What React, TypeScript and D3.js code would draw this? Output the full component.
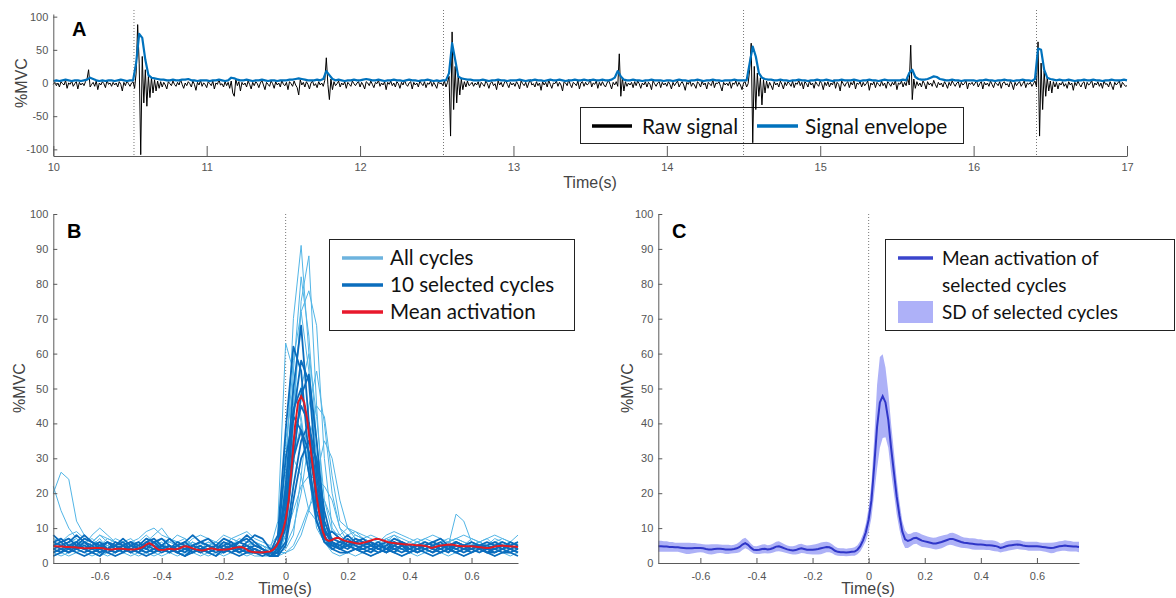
import React, { useEffect, useRef } from "react";
import * as d3 from "d3";

// ---- Panel A: raw EMG and envelope, 10 s to 17 s ----
const rawStart = 10;
const rawStep = 0.01;
const rawSignal = [
  -2, 1, -4, 0, -6, 2, -1, -3, 4, -8, 0, -2, 3, -5, -1, 2, -9, 1, -3, 0,
  -4, 2, 6, 20, -6, -2, 1, -5, 3, -10, 0, -3, 2, -1, -7, 4, -2, 0, -5, 1,
  -3, 0, -6, 2, -2, -12, 1, -4, 3, -1, -5, 0, 2, -8, 15, 88, 30, -108, 40, -30,
  20, -35, 10, -22, 8, -15, 5, -12, 3, -8, 2, -6, 1, -3, -9, 2, -1, -4, 3, -2,
  -5, 1, -3, 5, -2, -8, 0, -4, 2, -1, -6, 3, -2, -11, 1, -3, 4, -5, 0, -2,
  -7, 2, -1, -4, 3, -9, 0, -2, 5, -3, -1, -6, 2, -4, 1, -8, 3, -15, -20, 6,
  -4, 2, -12, 1, -3, 0, -6, 3, -2, -9, 1, -4, 2, -1, -7, 0, 4, -3, -10, 1,
  -2, -5, 3, -1, -8, 2, -3, 0, -6, 4, -2, -4, 1, -10, 2, -1, -5, 3, -3, -7,
  -18, 5, -3, 1, -6, 2, -2, -9, 0, 3, -4, -1, -7, 2, -3, 0, -5, 4, 38, -2,
  -25, 6, -10, 2, -4, -1, 3, -6, 0, -3, 2, -8, 1, -2, -5, 3, -1, -4, 0, 2,
  -6, 1, -3, -9, 2, 0, -4, 3, -2, -7, 1, -1, 4, -5, 0, -3, 2, -10, 1, -2,
  3, -4, 0, -6, 2, -1, -8, 1, -3, 4, -2, -5, 0, 2, -9, 1, -3, 0, -6, 3,
  -1, -4, 2, -7, 0, -2, 3, -5, 1, -3, -8, 2, -1, 0, -4, 3, -6, 1, 10, -80,
  77, -40, 25, -30, 12, -18, 6, -10, 2, -6, 3, -4, -2, 1, -5, 0, -3, 2, -7, 1,
  -2, -5, 3, -1, -8, 0, 2, -4, -1, -10, 3, -3, 1, -6, 0, 4, -2, -7, 1, -3,
  0, -5, 2, -2, -9, 3, -1, -4, 1, -7, 0, 5, -3, -1, -6, 2, -4, 0, -11, 2,
  -3, 1, -6, 4, -2, -8, 0, -1, 3, -5, 1, -3, -12, 2, 0, -4, 5, -2, -7, 1,
  -1, -4, 3, -9, 0, 2, -5, 1, -3, -1, 6, -6, 0, -2, 3, -8, 1, -4, 2, -3,
  -6, 0, 4, -2, -9, 1, -3, 2, -5, 44, -20, 8, -12, 2, -5, 0, -3, 1, -7, 2,
  -4, 3, -1, -8, 0, -3, 2, -6, 1, -2, -10, 3, -1, -5, 0, 2, -7, 1, -3, 0,
  -5, 2, -2, -9, 1, -4, 0, 3, -6, -1, 2, -3, -11, 1, -2, 4, -5, 0, -3, -8,
  2, -1, -6, 3, -3, 0, -9, 1, -2, -4, 5, -7, 0, -1, 2, -5, -12, 1, -3, 0,
  -4, 2, -8, 0, -2, 3, -5, 1, -3, -10, 0, 2, -6, -1, 20, 60, -90, 25, -40, 15,
  -20, 8, -33, 5, -15, 3, -8, 1, -4, -10, 2, -3, 0, -6, 3, -2, -9, 1, -4, 2,
  -1, -5, 3, -7, 0, -2, 4, -4, 1, -9, 2, -1, -6, 3, -3, 0, -8, 2, -2, -5,
  3, -1, -10, 1, -4, 2, -6, 0, -3, 5, -8, 1, -2, -12, 3, -1, -5, 0, 2, -7,
  1, -3, 4, -9, 0, -2, 2, -6, 1, -4, -1, 3, -11, 0, -3, 2, -7, 1, -2, -5,
  3, -4, 0, -8, 2, -1, -5, 1, -3, 4, -10, 0, -2, 3, -6, 1, -4, 8, -3, 57,
  -25, 6, -8, 2, -4, 0, -6, 3, -1, -9, 2, -3, 0, -5, 4, -2, -7, 1, -3, 0,
  -6, 2, -2, -8, 1, -4, 3, -1, -5, 0, 2, -7, 1, -3, -1, 4, -9, 0, -2, 1,
  -4, 0, 3, -6, -1, 2, -9, 1, -3, 0, -5, 3, -2, -7, 1, -1, -4, 2, -8, 0,
  2, -3, -1, -6, 3, -2, -10, 1, -4, 0, 2, -5, -1, 3, -7, 0, -2, 1, -5, -1,
  3, -6, 62, -80, 30, -40, 18, -20, 8, -12, 3, -15, 2, -6, 1, -9, 0, -3, 2, -5,
  -1, -8, 2, -3, 0, -11, 1, -4, 3, -2, -6, 0, 2, -9, 1, -3, -1, 4, -7, 0,
  -3, 2, -5, 0, -8, 3, -2, -1, -6, 2, -4, -10, 1, -3, 0, 3, -7, 1, -2, -5,
  -4,
];
const envStep = 0.02;
const envelope = [
  3, 4, 3, 4, 5, 4, 3, 4, 4, 3, 4, 5, 8, 6, 4, 3, 4, 3, 4, 4, 3, 4, 5, 4, 3,
  4, 4, 30, 74, 68, 35, 12, 8, 7, 6, 5, 5, 4, 4, 5, 4, 4, 5, 5, 6, 4, 4, 3, 4, 4,
  4, 3, 4, 4, 5, 4, 3, 4, 8, 7, 5, 4, 4, 5, 4, 3, 4, 4, 5, 4, 3, 4, 4, 3, 4,
  4, 4, 5, 5, 6, 7, 6, 5, 4, 4, 4, 5, 4, 6, 18, 12, 6, 4, 5, 4, 3, 4, 4, 5, 4,
  4, 5, 6, 5, 4, 4, 5, 4, 3, 4, 4, 5, 4, 4, 3, 4, 5, 4, 4, 3, 4, 4, 5, 4, 3,
  4, 3, 4, 4, 15, 60, 35, 10, 7, 6, 5, 5, 4, 4, 4, 5, 4, 3, 4, 4, 5, 4, 4, 3, 4,
  4, 4, 5, 4, 3, 4, 4, 5, 4, 4, 3, 4, 5, 4, 4, 5, 4, 3, 4, 4, 5, 4, 4, 5, 4,
  4, 5, 4, 4, 5, 4, 4, 5, 8, 18, 10, 5, 4, 4, 5, 4, 4, 3, 4, 4, 5, 4, 4, 4, 3,
  4, 4, 3, 4, 5, 4, 4, 3, 4, 4, 5, 4, 3, 4, 4, 5, 4, 4, 3, 4, 4, 4, 5, 4, 4,
  4, 4, 30, 55, 40, 15, 8, 6, 5, 5, 4, 4, 5, 4, 4, 3, 4, 4, 5, 4, 4, 3, 4, 4, 5,
  4, 4, 5, 4, 3, 4, 4, 5, 4, 4, 4, 5, 4, 3, 4, 4, 5, 4, 4, 3, 4, 5, 4, 4, 4,
  4, 4, 5, 4, 15, 20, 9, 6, 5, 5, 6, 8, 10, 9, 6, 5, 4, 4, 5, 4, 4, 3, 4, 4, 4,
  4, 3, 4, 4, 5, 4, 4, 3, 4, 4, 5, 4, 4, 3, 4, 4, 5, 4, 4, 3, 6, 52, 50, 20, 8,
  6, 5, 4, 5, 4, 4, 5, 4, 3, 4, 4, 5, 4, 4, 5, 4, 4, 3, 4, 4, 5, 4, 4, 4, 5,
  4,
];
const onsetsA = [10.526, 12.544, 14.5, 16.41];
const xTicksA = [10, 11, 12, 13, 14, 15, 16, 17];
const yTicksA = [-100, -50, 0, 50, 100];

// ---- Panels B and C: cycles aligned on onset, -0.75 s to 0.75 s ----
const cycleStart = -0.75;
const cycleStep = 0.025;
const allCycles = [
  [5,4,6,3,4,5,7,4,3,5, 4,6,5,3,4,7,5,4,6,4, 3,5,4,6,5,3,4,3,2,3, 25,70,91,60,22,8,5,4,5,6, 4,5,6,5,4,3,5,6,4,5, 4,6,5,4,3,5,4,6,5,4,5],
  [3,4,3,5,6,4,3,4,5,4, 6,5,4,3,4,5,4,6,5,3, 4,5,6,4,3,4,5,4,3,2, 8,40,75,88,45,12,6,5,4,5, 6,4,5,7,5,4,3,4,5,6, 5,4,3,4,6,5,4,3,5,4,3],
  [20,26,24,12,8,6,5,7,6,4, 5,6,8,6,5,4,6,7,5,4, 6,5,4,5,7,6,5,4,3,4, 12,45,72,78,68,30,10,7,6,5, 7,6,5,4,6,5,4,5,6,5, 4,5,6,5,4,6,5,4,5,6,5],
  [22,15,10,7,5,4,6,5,4,6, 7,5,4,5,6,4,3,5,6,4, 5,6,4,3,5,4,6,5,3,5, 30,58,72,55,30,10,6,5,4,5, 6,5,4,6,5,4,5,4,6,5, 4,5,3,4,6,5,4,5,4,6,5],
  [4,5,6,5,4,6,8,6,5,4, 5,4,6,8,10,7,5,4,5,6, 5,4,6,5,4,5,6,5,4,12, 63,55,40,25,12,7,6,5,6,7, 6,5,4,6,5,4,5,6,5,4, 6,5,4,5,6,5,4,5,6,5,4],
  [6,5,4,5,6,7,5,4,6,5, 4,5,7,6,5,4,5,6,4,5, 6,5,4,5,6,5,4,3,4,3, 4,8,25,45,55,40,20,10,8,9, 7,6,5,6,7,6,5,6,5,6, 5,6,7,6,5,6,5,7,6,5,6],
  [3,4,5,4,3,5,6,5,4,3, 4,5,4,6,5,3,4,5,4,3, 5,4,3,4,5,4,3,4,3,8, 35,50,42,25,10,6,5,4,5,4, 3,4,5,4,3,4,5,4,3,4, 5,4,3,4,5,4,3,4,5,4,3],
  [5,6,7,6,5,8,10,8,6,5, 6,5,7,6,5,6,8,7,5,6, 5,6,8,7,6,5,6,5,4,4, 5,10,20,35,45,42,25,12,10,8, 7,8,7,6,8,7,6,7,6,5, 6,7,6,5,7,6,5,6,7,6,5],
  [2,3,2,3,4,3,2,3,4,3, 2,3,4,3,2,3,2,3,4,3, 2,3,2,3,4,3,2,2,2,2, 15,30,40,28,15,6,3,2,3,2, 3,2,3,4,3,2,3,2,3,4, 3,2,3,2,3,4,3,2,3,2,3],
  [4,5,4,6,5,4,5,6,5,4, 5,6,5,4,5,7,6,5,4,5, 4,5,6,5,4,5,4,3,3,3, 3,4,8,15,25,35,30,18,10,7, 6,5,6,7,6,5,6,5,4,5, 6,5,14,12,6,5,4,5,6,5,4],
  [7,6,8,9,7,6,8,7,6,5, 6,7,9,10,8,7,6,5,7,8, 7,6,5,7,8,9,7,6,5,8, 20,30,25,15,12,10,9,8,10,9, 8,7,6,8,9,8,7,6,7,8, 7,6,7,8,7,6,7,8,7,6,8],
  [5,4,5,6,5,4,3,4,5,4, 3,4,5,4,3,4,5,6,5,4, 5,4,3,4,5,4,3,4,3,4, 8,15,22,25,24,22,18,10,6,5, 4,5,6,5,4,5,4,6,5,4, 5,6,5,4,5,6,5,4,5,6,5],
  [4,3,4,5,4,3,4,5,4,3, 4,5,4,3,5,4,3,4,5,4, 3,4,5,4,3,4,5,4,3,3, 18,55,82,65,35,12,6,4,5,4, 5,4,3,4,5,6,4,3,5,4, 3,4,5,4,6,5,4,3,4,5,4],
  [6,5,6,7,5,4,6,5,7,6, 5,6,4,5,7,6,5,4,6,5, 4,6,5,7,6,5,4,5,4,3, 8,28,50,60,42,18,9,7,6,8, 7,6,5,7,8,6,5,6,7,6, 5,6,7,6,5,6,7,5,6,5,6],
  [3,2,3,4,3,2,3,2,3,4, 3,2,3,2,3,4,3,2,3,2, 3,2,3,4,3,2,3,2,3,2, 3,5,10,16,20,18,12,8,6,5, 4,3,4,3,4,5,4,3,4,3, 4,3,4,3,4,3,4,3,4,3,4],
];
const selectedCycles = [
  [6,7,5,4,6,5,3,4,5,6, 4,3,5,6,4,3,4,5,3,4, 5,4,3,4,6,5,3,3,2,4, 22,50,68,40,15,7,5,4,6,5, 4,5,6,4,3,5,4,3,4,5, 4,3,5,4,4,5,3,4,5,4,3],
  [4,3,5,6,4,3,2,4,5,3, 5,6,4,3,5,4,3,2,4,5, 3,4,5,6,4,3,3,2,3,8, 38,62,55,30,12,6,4,5,7,5, 4,3,5,6,4,3,4,5,4,3, 5,4,3,4,5,4,3,3,4,5,4],
  [8,6,4,5,7,6,4,3,4,5, 6,4,3,4,5,7,5,4,3,4, 4,5,7,6,4,3,4,3,3,3, 15,42,58,52,25,9,6,5,4,6, 7,5,4,3,5,6,4,3,4,5, 6,4,3,4,5,5,4,3,4,6,5],
  [3,4,3,5,4,3,4,6,5,4, 3,4,6,5,4,3,5,6,4,3, 4,3,4,5,3,4,5,4,2,3, 10,30,48,54,35,12,6,4,5,4, 3,4,5,4,6,5,3,4,5,4, 3,4,6,5,4,3,4,5,4,3,4],
  [5,6,7,5,4,5,6,4,3,5, 6,5,4,6,7,5,3,4,5,6, 5,4,3,5,6,7,5,4,3,5, 20,44,50,38,18,8,9,7,5,6, 5,6,4,5,7,6,5,4,5,6, 5,4,6,5,4,5,6,5,4,5,6],
  [2,3,4,3,2,3,4,3,2,3, 4,3,2,3,4,5,3,2,3,4, 3,2,4,3,2,3,4,3,2,2, 12,35,45,40,22,8,4,3,3,4, 3,2,3,4,3,2,3,4,3,2, 3,4,3,2,3,4,3,2,3,3,2],
  [4,5,6,8,6,4,5,6,4,5, 4,5,7,6,4,5,4,3,5,6, 7,5,4,5,6,8,6,4,3,6, 30,42,38,26,12,6,5,6,8,6, 5,6,5,4,5,6,5,4,5,6, 7,5,4,5,6,5,4,5,6,5,4],
  [5,4,3,4,5,4,3,4,6,5, 3,4,5,4,3,4,6,5,4,3, 4,5,4,3,4,5,4,3,3,3, 6,22,35,40,28,10,5,4,5,4, 4,5,4,3,4,5,4,5,4,3, 4,5,4,3,4,5,4,4,5,4,3],
  [6,5,4,6,8,6,5,4,5,7, 5,4,6,7,5,4,5,6,8,6, 5,4,6,5,4,6,8,7,4,4, 18,30,38,32,20,9,7,6,5,7, 6,5,4,5,6,5,4,5,6,5, 4,5,6,5,4,5,5,6,5,4,5],
  [3,4,5,4,3,4,5,4,3,4, 5,4,3,4,5,4,3,4,5,4, 3,4,5,4,3,4,3,3,2,2, 5,18,30,35,30,15,6,4,3,4, 5,4,3,4,5,4,3,4,5,4, 3,4,5,4,3,4,5,4,3,4,5],
];
const meanStart = -0.75;
const meanStep = 0.01;
const meanActivation = [
  4.8, 4.8, 4.7, 4.7, 4.6, 4.6,
  4.5, 4.5, 4.4, 4.3, 4.2, 4.2, 4.2, 4.3, 4.3, 4.3,
  4.2, 4.0, 3.9, 3.9, 4.0, 4.1, 4.1, 4.0, 3.9, 3.9,
  3.9, 4.0, 4.2, 4.6, 5.3, 5.7, 5.2, 4.4, 3.8, 3.7,
  3.8, 4.0, 4.1, 3.9, 4.0, 4.3, 4.7, 4.8, 4.5, 4.2,
  3.9, 3.7, 3.6, 3.7, 4.0, 4.2, 4.0, 3.8, 3.8, 3.8,
  3.9, 4.0, 4.2, 4.4, 4.6, 4.5, 4.1, 3.5, 3.2, 3.1,
  3.1, 3.0, 3.1, 3.2, 3.3, 3.8, 4.8, 6.5, 8.8, 12.4,
  18, 28, 39, 46, 47.8, 46, 41, 33, 26, 19,
  13.5, 9, 6.8, 6.3, 6.6, 7.1, 7.2, 6.8, 6.4, 6.2,
  6.0, 5.8, 5.6, 5.6, 5.8, 6.0, 6.3, 6.6, 6.9, 6.9,
  6.6, 6.3, 6.0, 5.8, 5.7, 5.6, 5.5, 5.4, 5.3, 5.3,
  5.2, 5.1, 5.1, 5.0, 4.9, 4.7, 4.3, 4.5, 4.8, 5.0,
  5.1, 5.2, 5.3, 5.2, 5.0, 4.9, 4.8, 4.8, 4.8, 4.8,
  4.7, 4.6, 4.5, 4.4, 4.3, 4.4, 4.6, 4.8, 4.9, 5.0,
  4.9, 4.8, 4.7, 4.7, 4.6,
];
const sdSelected = [
  1.6, 1.6, 1.5, 1.5, 1.4, 1.4,
  1.3, 1.3, 1.4, 1.5, 1.6, 1.6, 1.5, 1.4, 1.3, 1.2,
  1.2, 1.3, 1.4, 1.5, 1.4, 1.3, 1.2, 1.2, 1.3, 1.3,
  1.2, 1.2, 1.3, 1.5, 1.6, 1.5, 1.3, 1.2, 1.1, 1.1,
  1.2, 1.3, 1.3, 1.2, 1.2, 1.3, 1.4, 1.4, 1.3, 1.2,
  1.1, 1.1, 1.2, 1.3, 1.4, 1.3, 1.2, 1.2, 1.3, 1.4,
  1.5, 1.6, 1.7, 1.6, 1.5, 1.4, 1.3, 1.2, 1.1, 1.1,
  1.1, 1.1, 1.1, 1.1, 1.2, 1.3, 1.5, 1.8, 2.5, 3.5,
  5, 8, 12, 13, 12, 10, 8, 7, 6, 5,
  4, 3, 2.5, 2, 1.8, 1.7, 1.7, 1.8, 1.8, 1.7,
  1.6, 1.6, 1.6, 1.7, 1.8, 1.8, 1.7, 1.6, 1.7, 1.8,
  1.8, 1.7, 1.6, 1.5, 1.5, 1.5, 1.6, 1.6, 1.5, 1.5,
  1.4, 1.4, 1.4, 1.5, 1.5, 1.4, 1.3, 1.3, 1.4, 1.4,
  1.4, 1.3, 1.3, 1.3, 1.2, 1.2, 1.3, 1.3, 1.3, 1.3,
  1.2, 1.2, 1.3, 1.4, 1.5, 1.5, 1.4, 1.4, 1.4, 1.5,
  1.5, 1.5, 1.4, 1.4, 1.5,
];
const xTicksBC = [-0.6, -0.4, -0.2, 0, 0.2, 0.4, 0.6];
const yTicksBC = [0, 10, 20, 30, 40, 50, 60, 70, 80, 90, 100];

const axisColor = "#5a5a5a";
const tickFont = "'Liberation Sans', Arial, sans-serif";
const legendFont = "Lato, 'Open Sans', sans-serif";

function drawAxes(svg: any, x: any, y: any, xTicks: number[], yTicks: number[], xLen: number, yLen: number, xPad: number) {
  const gx = svg.append("g")
    .attr("transform", `translate(0,${y.range()[0]})`)
    .call(d3.axisBottom(x).tickValues(xTicks).tickFormat((d: any) => String(d)).tickSizeInner(-xLen).tickSizeOuter(0).tickPadding(xPad));
  const gy = svg.append("g")
    .attr("transform", `translate(${x.range()[0]},0)`)
    .call(d3.axisLeft(y).tickValues(yTicks).tickFormat((d: any) => String(d)).tickSizeInner(-yLen).tickSizeOuter(0).tickPadding(5));
  [gx, gy].forEach((g) => {
    g.attr("font-family", tickFont).attr("font-size", 11);
    g.select(".domain").attr("stroke", axisColor);
    g.selectAll(".tick line").attr("stroke", axisColor);
    g.selectAll(".tick text").attr("fill", "#555");
  });
}

function axisTitles(svg: any, yx: number, yy: number, tx: number, ty: number) {
  svg.append("text")
    .attr("transform", `translate(${yx},${yy}) rotate(-90)`)
    .attr("text-anchor", "middle").attr("dominant-baseline", "central")
    .attr("font-family", tickFont).attr("font-size", 16).attr("fill", "#444")
    .text("%MVC");
  svg.append("text")
    .attr("x", tx).attr("y", ty)
    .attr("text-anchor", "middle").attr("dominant-baseline", "central")
    .attr("font-family", tickFont).attr("font-size", 16).attr("fill", "#444")
    .text("Time(s)");
}

function panelLetter(svg: any, x: number, y: number, s: string) {
  svg.append("text").attr("x", x).attr("y", y)
    .attr("font-family", tickFont).attr("font-weight", "bold").attr("font-size", 20).attr("fill", "#000")
    .text(s);
}

function legendText(svg: any, x: number, y: number, s: string, size: number) {
  svg.append("text").attr("x", x).attr("y", y)
    .attr("dominant-baseline", "central")
    .attr("font-family", legendFont).attr("font-size", size).attr("fill", "#111")
    .text(s);
}

export default function App() {
  const svgRef = useRef<SVGSVGElement>(null);

  useEffect(() => {
    const svg = d3.select(svgRef.current);
    svg.selectAll("*").remove();

    // ===== Panel A =====
    const xA = d3.scaleLinear().domain([10, 17]).range([53.3, 1127]);
    const yA = d3.scaleLinear().domain([-110, 104]).range([156, 14]);

    // legend first: the raw spike at 14.5 s runs over it in the original
    svg.append("rect").attr("x", 580.5).attr("y", 107.5).attr("width", 383).attr("height", 36)
      .attr("fill", "#fff").attr("stroke", "#222");
    svg.append("line").attr("x1", 592).attr("x2", 632).attr("y1", 126).attr("y2", 126)
      .attr("stroke", "#000").attr("stroke-width", 3.5);
    legendText(svg, 642, 125, "Raw signal", 20.8);
    svg.append("line").attr("x1", 757).attr("x2", 798).attr("y1", 126).attr("y2", 126)
      .attr("stroke", "#0072bd").attr("stroke-width", 3.5);
    legendText(svg, 805, 125, "Signal envelope", 20.8);

    svg.append("g").selectAll("line").data(onsetsA).enter().append("line")
      .attr("x1", (d) => xA(d)).attr("x2", (d) => xA(d))
      .attr("y1", 10).attr("y2", 156)
      .attr("stroke", "#777").attr("stroke-width", 1).attr("stroke-dasharray", "1,2");

    const rawLine = d3.line<number>()
      .x((d, i) => xA(rawStart + i * rawStep))
      .y((d) => yA(d));
    svg.append("path").datum(rawSignal).attr("d", rawLine)
      .attr("fill", "none").attr("stroke", "#000").attr("stroke-width", 1);

    const envLine = d3.line<number>()
      .x((d, i) => xA(rawStart + i * envStep))
      .y((d) => yA(d));
    svg.append("path").datum(envelope).attr("d", envLine)
      .attr("fill", "none").attr("stroke", "#0072bd").attr("stroke-width", 2.2)
      .attr("stroke-linejoin", "round");

    drawAxes(svg, xA, yA, xTicksA, yTicksA, 10, 4, 7);
    axisTitles(svg, 21, 83, 590, 182);
    panelLetter(svg, 72, 36, "A");

    // ===== Panel B =====
    const xB = d3.scaleLinear().domain([-0.75, 0.75]).range([53.3, 518]);
    const yB = d3.scaleLinear().domain([0, 100]).range([563, 214]);

    svg.append("line").attr("x1", xB(0)).attr("x2", xB(0)).attr("y1", 214).attr("y2", 563)
      .attr("stroke", "#777").attr("stroke-dasharray", "1,2");

    const cycleLine = d3.line<number>()
      .x((d, i) => xB(cycleStart + i * cycleStep))
      .y((d) => yB(d));
    svg.append("g").selectAll("path").data(allCycles).enter().append("path")
      .attr("d", cycleLine).attr("fill", "none").attr("stroke", "#52b5e6").attr("stroke-width", 1)
      .attr("stroke-linejoin", "round");
    svg.append("g").selectAll("path").data(selectedCycles).enter().append("path")
      .attr("d", cycleLine).attr("fill", "none").attr("stroke", "#0b6dbd").attr("stroke-width", 1.8)
      .attr("stroke-linejoin", "round");

    const meanLineB = d3.line<number>()
      .x((d, i) => xB(meanStart + i * meanStep))
      .y((d) => yB(d));
    svg.append("path").datum(meanActivation).attr("d", meanLineB)
      .attr("fill", "none").attr("stroke", "#e01b24").attr("stroke-width", 2);

    drawAxes(svg, xB, yB, xTicksBC, yTicksBC, 5, 4, 9);
    axisTitles(svg, 19, 388, 285, 588);
    panelLetter(svg, 67, 238, "B");

    svg.append("rect").attr("x", 329.5).attr("y", 239.5).attr("width", 245).attr("height", 91)
      .attr("fill", "#fff").attr("stroke", "#222");
    const legB = [
      { label: "All cycles", color: "#6db3de" },
      { label: "10 selected cycles", color: "#0b6dbd" },
      { label: "Mean activation", color: "#e8192c" },
    ];
    legB.forEach((d, i) => {
      const yy = 258 + i * 27;
      svg.append("line").attr("x1", 342).attr("x2", 383).attr("y1", yy).attr("y2", yy)
        .attr("stroke", d.color).attr("stroke-width", 3.5);
      legendText(svg, 390, yy - 1, d.label, 20.6);
    });

    // ===== Panel C =====
    const xC = d3.scaleLinear().domain([-0.75, 0.75]).range([658.3, 1079]);
    const yC = d3.scaleLinear().domain([0, 100]).range([563, 214]);

    svg.append("line").attr("x1", xC(0)).attr("x2", xC(0)).attr("y1", 214).attr("y2", 563)
      .attr("stroke", "#777").attr("stroke-dasharray", "1,2");

    const band = d3.area<number>()
      .x((d, i) => xC(meanStart + i * meanStep))
      .y0((d, i) => yC(d - sdSelected[i]))
      .y1((d, i) => yC(d + sdSelected[i]));
    svg.append("path").datum(meanActivation).attr("d", band).attr("fill", "#adb1f7");

    const meanLineC = d3.line<number>()
      .x((d, i) => xC(meanStart + i * meanStep))
      .y((d) => yC(d));
    svg.append("path").datum(meanActivation).attr("d", meanLineC)
      .attr("fill", "none").attr("stroke", "#2f36c8").attr("stroke-width", 2);

    drawAxes(svg, xC, yC, xTicksBC, yTicksBC, 5, 4, 9);
    axisTitles(svg, 627, 388, 868, 588);
    panelLetter(svg, 672, 238, "C");

    svg.append("rect").attr("x", 885.5).attr("y", 239.5).attr("width", 289).attr("height", 91)
      .attr("fill", "#fff").attr("stroke", "#222");
    svg.append("line").attr("x1", 898).attr("x2", 933).attr("y1", 258).attr("y2", 258)
      .attr("stroke", "#3a44cc").attr("stroke-width", 3.5);
    legendText(svg, 942, 257, "Mean activation of", 19);
    legendText(svg, 942, 284, "selected cycles", 19);
    svg.append("rect").attr("x", 898).attr("y", 301).attr("width", 35).attr("height", 22)
      .attr("fill", "#aeb1f8");
    legendText(svg, 942, 311, "SD of selected cycles", 19);
  }, []);

  return (
    <svg
      ref={svgRef}
      width={1176}
      height={598}
      style={{ position: "absolute", left: 0, top: 0, background: "#fff" }}
    />
  );
}
